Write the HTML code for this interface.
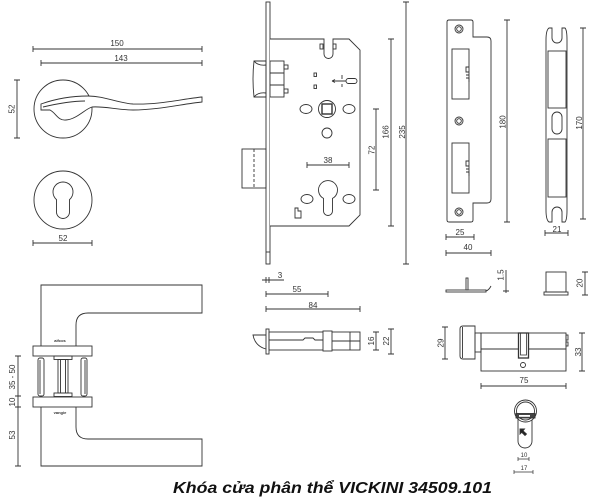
<!DOCTYPE html>
<html><head><meta charset="utf-8"><style>
html,body{margin:0;padding:0;background:#fff;}
svg{display:block}
text{font-family:"Liberation Sans",sans-serif;fill:#333;font-size:8px}
</style></head><body>
<svg width="600" height="500" viewBox="0 0 600 500" xmlns="http://www.w3.org/2000/svg">
<rect width="600" height="500" fill="#fff"/>
<g fill="none" stroke="#333" stroke-width="0.9">
<!-- ===== top-left lever ===== -->
<path d="M33,49H202M33,46V52M202,46V52"/>
<path d="M41,63H202M41,60V66M202,60V66"/>
<path d="M17,80V138M14,80H20M14,138H20"/>
<circle cx="63" cy="109" r="29"/>
<path fill="#fff" d="M41,104 C55,99 72,96 88,96 C105,96 117,103 133,104 C158,105 182,99 202,97 L202,102 C182,104 158,110 133,110 C118,110 104,106 92,107 C85,109 77,119 66,120 C58,121 56,113 50,110 L41,110 Z"/>
<path d="M43,107 C60,103 72,101 85,101"/>
<circle cx="63" cy="200" r="29"/>
<path d="M56.5,199.6 A10,10 0 1 1 69.5,199.6 L69.5,212 A6.5,6.5 0 0 1 56.5,212 Z"/>
<path d="M33,243H92M33,240V246M92,240V246"/>

<!-- ===== lock body ===== -->
<rect x="266" y="2" width="4" height="262"/>
<path d="M266,252H270"/>
<path fill="#fff" d="M270,39 L324,39 L324,54 A4.5,4.5 0 0 0 333,54 L333,39 L349,39 L360,50 L360,215 L349,226 L270,226"/>
<rect x="320" y="44" width="3" height="5"/>
<rect x="333" y="44" width="3" height="5"/>
<path d="M254,61 L266,61 L266,97 L254,97 Q252,79 254,61 Z"/>
<path d="M254,61 Q258,66 266,65 M254,97 Q258,92 266,93"/>
<rect x="270" y="61" width="14" height="36"/>
<path d="M270,73H284M270,85H284"/>
<rect x="284" y="65" width="4" height="4"/>
<rect x="284" y="89" width="4" height="4"/>
<rect x="314" y="73" width="2.5" height="3.5"/>
<rect x="314" y="85" width="2.5" height="3.5"/>
<path d="M332,81H346M332,81l3,-1.5M332,81l3,1.5M342,75V79M342,84V87"/>
<rect x="346" y="78.5" width="11" height="5" rx="2.5"/>
<circle cx="327" cy="109" r="8.5"/>
<rect x="322" y="104" width="10" height="10" stroke-width="1.4"/>
<ellipse cx="306" cy="109" rx="6" ry="4.5"/>
<ellipse cx="349" cy="109" rx="6" ry="4.5"/>
<circle cx="327" cy="133" r="5"/>
<path d="M307,165H349M307,162V168M349,162V168"/>
<path d="M323.5,198.4 A9.5,9.5 0 1 1 332.5,198.4 L332.5,211 A4.5,4.5 0 0 1 323.5,211 Z"/>
<ellipse cx="307" cy="199" rx="6" ry="4.5"/>
<ellipse cx="349" cy="199" rx="6" ry="4.5"/>
<path d="M295,208 L298,208 L298,211 L301,211 L301,218 L295,218 Z"/>
<rect x="242" y="149" width="24" height="39"/>
<path d="M254,149V188" stroke-dasharray="3,2"/>
<path d="M376,109V190M373,109H379M373,190H379"/>
<path d="M391,39V226M388,39H394M388,226H394"/>
<path d="M406,2V264M403,2H409M403,264H409"/>

<!-- ===== strike plate 1 ===== -->
<path d="M449,20 L471,20 Q473,20 473,22 L473,37 L487,37 Q491,37 491,41 L491,199 Q491,203 487,203 L473,203 L473,220 Q473,222 471,222 L449,222 Q447,222 447,220 L447,22 Q447,20 449,20 Z"/>
<circle cx="459" cy="29" r="4"/><circle cx="459" cy="29" r="2.3"/>
<circle cx="459" cy="121" r="4"/><circle cx="459" cy="121" r="2.3"/>
<circle cx="459" cy="212" r="4"/><circle cx="459" cy="212" r="2.3"/>
<rect x="452" y="49" width="17" height="50"/>
<rect x="452" y="143" width="17" height="50"/>
<path d="M469,67 L466,67 L466,72 L469,72 M466,75 L469,75 M466,78 L469,78 L469,82"/>
<path d="M469,161 L466,161 L466,166 L469,166 M466,169 L469,169 M466,172 L469,172 L469,176"/>
<path d="M507,20V222M504,20H510M504,222H510"/>

<!-- ===== strike plate 2 ===== -->
<path d="M549,28 L552,28 L552,38 A5,5 0 0 0 562,38 L562,28 L565,28 Q567,30 567,40 L567,210 Q567,220 565,222 L562,222 L562,212 A5,5 0 0 0 552,212 L552,222 L549,222 Q546,220 546,210 L546,40 Q546,30 549,28 Z"/>
<rect x="548" y="51" width="18" height="57"/>
<rect x="548" y="139" width="18" height="58"/>
<rect x="552" y="112" width="10" height="22" rx="5"/>
<path d="M583,28V219M580,28H586M580,219H586"/>

<path d="M446,237H474M446,234V240M474,234V240"/>
<path d="M545,233H568M545,230V236M568,230V236"/>
<path d="M446,253H491M446,250V256M491,250V256"/>

<!-- small parts -->
<rect x="446" y="290" width="40" height="2"/>
<rect x="466" y="278" width="2" height="12"/>
<path d="M486,291 Q489,290 491,286"/>
<path d="M506,270V293M503,291H509"/>
<rect x="546" y="272" width="20" height="20"/>
<rect x="544" y="292" width="24" height="3"/>
<path d="M585,272V295M582,272H588M582,295H588"/>

<!-- ===== cylinder ===== -->
<path d="M463,326 L475,326 L475,359 L463,359 Q460,359 460,356 L460,329 Q460,326 463,326 Z"/>
<path d="M462.5,327V358"/>
<rect x="475" y="333" width="6" height="19"/>
<rect x="481" y="333" width="85" height="38"/>
<path d="M481,349H566"/>
<rect x="566" y="335" width="2" height="5"/>
<rect x="566" y="342" width="2" height="4"/>
<rect x="518.5" y="333" width="10" height="25" fill="#fff" stroke-width="1.3"/>
<rect x="520.5" y="333" width="6" height="22" stroke-width="0.8"/>
<circle cx="523" cy="365" r="2.5"/>
<path d="M445,327V359M442,327H448M442,359H448"/>
<path d="M582,333V371M579,333H585M579,371H585"/>
<path d="M481,386H566M481,383V389M566,383V389"/>

<!-- thumbturn -->
<rect x="518" y="403" width="14" height="45" rx="7"/>
<circle cx="525.5" cy="411" r="11" fill="#fff"/>
<circle cx="525.5" cy="411" r="9"/>
<rect x="516" y="413.5" width="19" height="4.5" fill="#444"/>
<rect x="519" y="415" width="11" height="1.8" fill="#fff" stroke="none"/>
<path d="M520,429 L524.5,429 L523,430.8 L526.5,434 L525,435.5 L521.7,432.3 L520,434 Z" fill="#222"/>
<path d="M518,459H529M518,457V461M529,457V461" stroke-width="0.7"/>
<path d="M514,472H533M514,470V474M533,470V474" stroke-width="0.7"/>

<!-- ===== bottom-left lever ===== -->
<path d="M41,346 L41,285 L202,285 L202,313 L88,313 Q76,313 76,325 L76,346"/>
<rect x="33" y="346" width="59" height="10"/>
<rect x="38" y="358" width="6" height="38" rx="2"/>
<path d="M40,360V394"/>
<rect x="81" y="358" width="6" height="38" rx="2"/>
<path d="M85,360V394"/>
<rect x="54" y="356" width="18" height="3.5"/>
<rect x="54" y="393" width="18" height="3.5"/>
<rect x="58" y="359.5" width="10" height="33.5"/>
<path d="M60.5,359.5V393M65.5,359.5V393"/>
<rect x="33" y="397" width="59" height="10"/>
<path d="M41,407 L41,466 L202,466 L202,439 L88,439 Q76,439 76,427 L76,407"/>
<path d="M18,356V466M15,356H21M15,396H21M15,407H21M15,466H21"/>

<!-- ===== latch side view ===== -->
<rect x="266" y="329" width="3" height="25"/>
<path d="M266,335 L253,335 Q255,346 266,349"/>
<rect x="269" y="332" width="91" height="18"/>
<path d="M269,340 L303,340 L305,338 L313,338 L315,340 L323,340"/>
<rect x="323" y="331" width="9" height="20" fill="#fff"/>
<path d="M350,332V350M332,341H360"/>
<path d="M376,332V350M373,332H379M373,350H379"/>
<path d="M391,329V354M388,329H394M388,354H394"/>
<path d="M262,280H284M266,277V283M269,277V283"/>
<path d="M266,294H328M266,291V297M328,291V297"/>
<path d="M266,309H360M266,306V312M360,306V312"/>
</g>

<!-- ===== labels ===== -->
<g text-anchor="middle">
<text x="117" y="46">150</text>
<text x="121" y="61">143</text>
<text transform="translate(14.5,109) rotate(-90)">52</text>
<text x="63" y="241">52</text>
<text x="328" y="163">38</text>
<text transform="translate(374.5,150) rotate(-90)">72</text>
<text transform="translate(388.5,132) rotate(-90)">166</text>
<text transform="translate(405,132) rotate(-90)">235</text>
<text transform="translate(505.5,122) rotate(-90)">180</text>
<text transform="translate(582,123) rotate(-90)">170</text>
<text x="460" y="235">25</text>
<text x="557" y="232">21</text>
<text x="468" y="250">40</text>
<text transform="translate(503.5,275) rotate(-90)">1.5</text>
<text transform="translate(582.5,283) rotate(-90)">20</text>
<text transform="translate(443.5,343) rotate(-90)">29</text>
<text transform="translate(581,352) rotate(-90)">33</text>
<text x="524" y="383">75</text>
<text x="524" y="457" style="font-size:6px">10</text>
<text x="524" y="470" style="font-size:6px">17</text>
<text x="280" y="278">3</text>
<text x="297" y="292">55</text>
<text x="313" y="308">84</text>
<text transform="translate(374,341) rotate(-90)">16</text>
<text transform="translate(389,341) rotate(-90)">22</text>
<text transform="translate(15,377) rotate(-90)">35 - 50</text>
<text transform="translate(15,402) rotate(-90)">10</text>
<text transform="translate(15,435) rotate(-90)">53</text>
<text x="60" y="342" style="font-size:4px;font-weight:bold">aifcos</text>
<text x="60" y="414" style="font-size:4px;font-weight:bold">vangie</text>
</g>
<text x="173" y="493" textLength="319" lengthAdjust="spacingAndGlyphs" style="font-size:16px;font-weight:bold;font-style:italic;fill:#111">Khóa cửa phân thể VICKINI 34509.101</text>
</svg>
</body></html>
